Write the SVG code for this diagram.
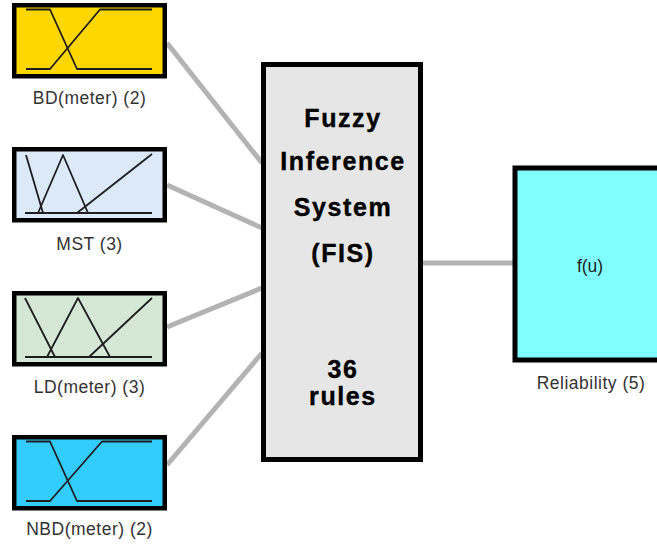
<svg xmlns="http://www.w3.org/2000/svg" width="657" height="546" viewBox="0 0 657 546">
  <style>
    .edge { stroke: #b3b3b3; stroke-width: 5; fill: none; }
    .box { stroke: #000; stroke-width: 4.5; }
    .mf { stroke: #1e1e1e; stroke-width: 1.8; fill: none; stroke-linejoin: round; }
    .lbl { font-family: "Liberation Sans", Arial, sans-serif; font-size: 17.5px; fill: #333; text-anchor: middle; letter-spacing: 0.5px; }
    .fis { font-family: "Liberation Sans", Arial, sans-serif; font-size: 25px; font-weight: bold; fill: #000; text-anchor: middle; letter-spacing: 1.6px; stroke: #000; stroke-width: 0.4px; }
  </style>

  <rect x="0" y="0" width="657" height="546" fill="#ffffff"/>

  <!-- connectors: inputs to FIS, FIS to output -->
  <g id="connectors">
    <line class="edge" x1="167" y1="43" x2="262" y2="163"/>
    <line class="edge" x1="167" y1="185" x2="262" y2="228"/>
    <line class="edge" x1="167" y1="327" x2="262" y2="288"/>
    <line class="edge" x1="167" y1="465" x2="262" y2="353"/>
    <line class="edge" x1="423" y1="263" x2="513" y2="263"/>
  </g>

  <!-- input: BD -->
  <g id="bd" transform="translate(0,3)">
    <rect class="box" x="14.25" y="2.25" width="150.5" height="71" fill="#ffd700"/>
    <path class="mf" d="M26,6.5 H50 L77,66 H152"/>
    <path class="mf" d="M26,66 H50 L100,6.5 H152"/>
    <text class="lbl" x="89.5" y="101">BD(meter) (2)</text>
  </g>

  <!-- input: MST -->
  <g id="mst" transform="translate(0,147)">
    <rect class="box" x="14.25" y="2.25" width="150.5" height="71" fill="#dce9f8"/>
    <path class="mf" d="M25,66 H152"/>
    <path class="mf" d="M26,8 L43,66"/>
    <path class="mf" d="M38,66 L63,8 L88,66"/>
    <path class="mf" d="M77,66 L152,7"/>
    <text class="lbl" x="89.5" y="103">MST (3)</text>
  </g>

  <!-- input: LD -->
  <g id="ld" transform="translate(0,291)">
    <rect class="box" x="14.25" y="2.25" width="150.5" height="71" fill="#d5e8d6"/>
    <path class="mf" d="M25,66 H152"/>
    <path class="mf" d="M25,7 L55,66"/>
    <path class="mf" d="M47,66 L78,7 L110,66"/>
    <path class="mf" d="M89,66 L152,7"/>
    <text class="lbl" x="89.5" y="102">LD(meter) (3)</text>
  </g>

  <!-- input: NBD -->
  <g id="nbd" transform="translate(0,435)">
    <rect class="box" x="14.25" y="2.25" width="150.5" height="71" fill="#33ccff"/>
    <path class="mf" d="M26,6.5 H50 L77,66 H152"/>
    <path class="mf" d="M26,66 H50 L102,6.5 H152"/>
    <text class="lbl" x="89.5" y="100">NBD(meter) (2)</text>
  </g>

  <!-- inference block -->
  <g id="fis">
    <rect x="263.5" y="64.5" width="157" height="395" fill="#e6e6e6" stroke="#000" stroke-width="5"/>
    <text class="fis" x="343" y="127">Fuzzy</text>
    <text class="fis" x="343" y="170">Inference</text>
    <text class="fis" x="343" y="216">System</text>
    <text class="fis" x="343" y="262">(FIS)</text>
    <text class="fis" x="343" y="378">36</text>
    <text class="fis" x="343" y="405">rules</text>
  </g>

  <!-- output: Reliability -->
  <g id="reliability">
    <rect x="515" y="168" width="200" height="192" fill="#80ffff" stroke="#000" stroke-width="5"/>
    <text class="lbl" x="590" y="272" style="fill:#222;letter-spacing:0" font-size="16">f(u)</text>
    <text class="lbl" x="591" y="389">Reliability (5)</text>
  </g>
</svg>
